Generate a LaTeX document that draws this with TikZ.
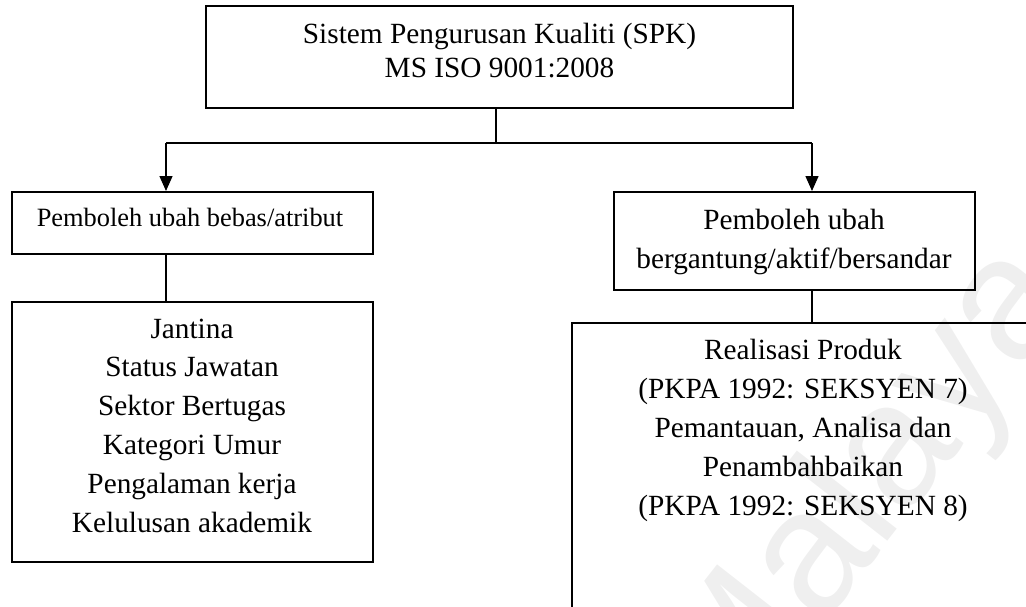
\documentclass[tikz,border=0pt]{standalone}
\usepackage{fontspec}
\setmainfont{Liberation Serif}
\newfontfamily\wmfont{Liberation Sans}
\usetikzlibrary{arrows.meta}
\definecolor{wmgray}{RGB}{239,239,239}
\begin{document}
\begin{tikzpicture}[x=1pt,y=-1pt,
  box/.style={draw=black, line width=2pt, inner sep=0pt, anchor=north west},
  label29/.style={inner sep=0pt, align=center, anchor=base,
    font=\fontsize{29.3}{38.8}\selectfont},
  label29tight/.style={label29, font=\fontsize{29.3}{34}\selectfont},
  label27/.style={inner sep=0pt, align=center, anchor=base,
    font=\fontsize{26.4}{33}\selectfont},
  link/.style={line width=1.4pt},
  arrowlink/.style={link, -{Triangle[length=15pt,width=13pt]}}]
% page frame
\useasboundingbox (0,0) rectangle (1026,606);
\clip (0,0) rectangle (1026,606);
% faint watermark
\node[text=wmgray, font=\wmfont\fontsize{175}{175}\selectfont, rotate=52, anchor=base]
  (watermark) at (905,520) {Malaya};

% boxes
\node[box, minimum width=587pt, minimum height=102pt] (top) at (205,5) {};
\node[box, minimum width=361pt, minimum height=62pt] (indep) at (11,191) {};
\node[box, minimum width=361pt, minimum height=98pt] (dep) at (613,191) {};
\node[box, minimum width=361pt, minimum height=259.5pt] (attr) at (11,301) {};
\node[box, minimum width=464pt, minimum height=284.5pt] (clause) at (571,322) {};

% box texts (base anchor sits on the last line)
\node[label29tight] (toptext) at (499.5,77) {Sistem Pengurusan Kualiti (SPK)\\MS ISO 9001:2008};
\node[label27] (indeptext) at (190,226) {Pemboleh ubah bebas/atribut};
\node[label29] (deptext) at (794,268) {Pemboleh ubah\\bergantung/aktif/bersandar};
\node[label29] (attrtext) at (192,532) {Jantina\\Status Jawatan\\Sektor Bertugas\\Kategori Umur\\Pengalaman kerja\\Kelulusan akademik};
\node[label29] (clausetext) at (803,515) {Realisasi Produk\\(PKPA 1992: SEKSYEN 7)\\Pemantauan, Analisa dan\\Penambahbaikan\\(PKPA 1992: SEKSYEN 8)};

% connectors
\coordinate (split) at (496,143);
\coordinate (jl) at (166,143);
\coordinate (jr) at (812,143);
\draw[link] (top.south -| split) -- (split);
\draw[link] (jl) -- (jr);
\draw[arrowlink] (jl) -- (jl |- indep.north);
\draw[arrowlink] (jr) -- (jr |- dep.north);
\draw[link] (jl |- indep.south) -- (jl |- attr.north);
\draw[link] (jr |- dep.south) -- (jr |- clause.north);
\end{tikzpicture}
\end{document}
